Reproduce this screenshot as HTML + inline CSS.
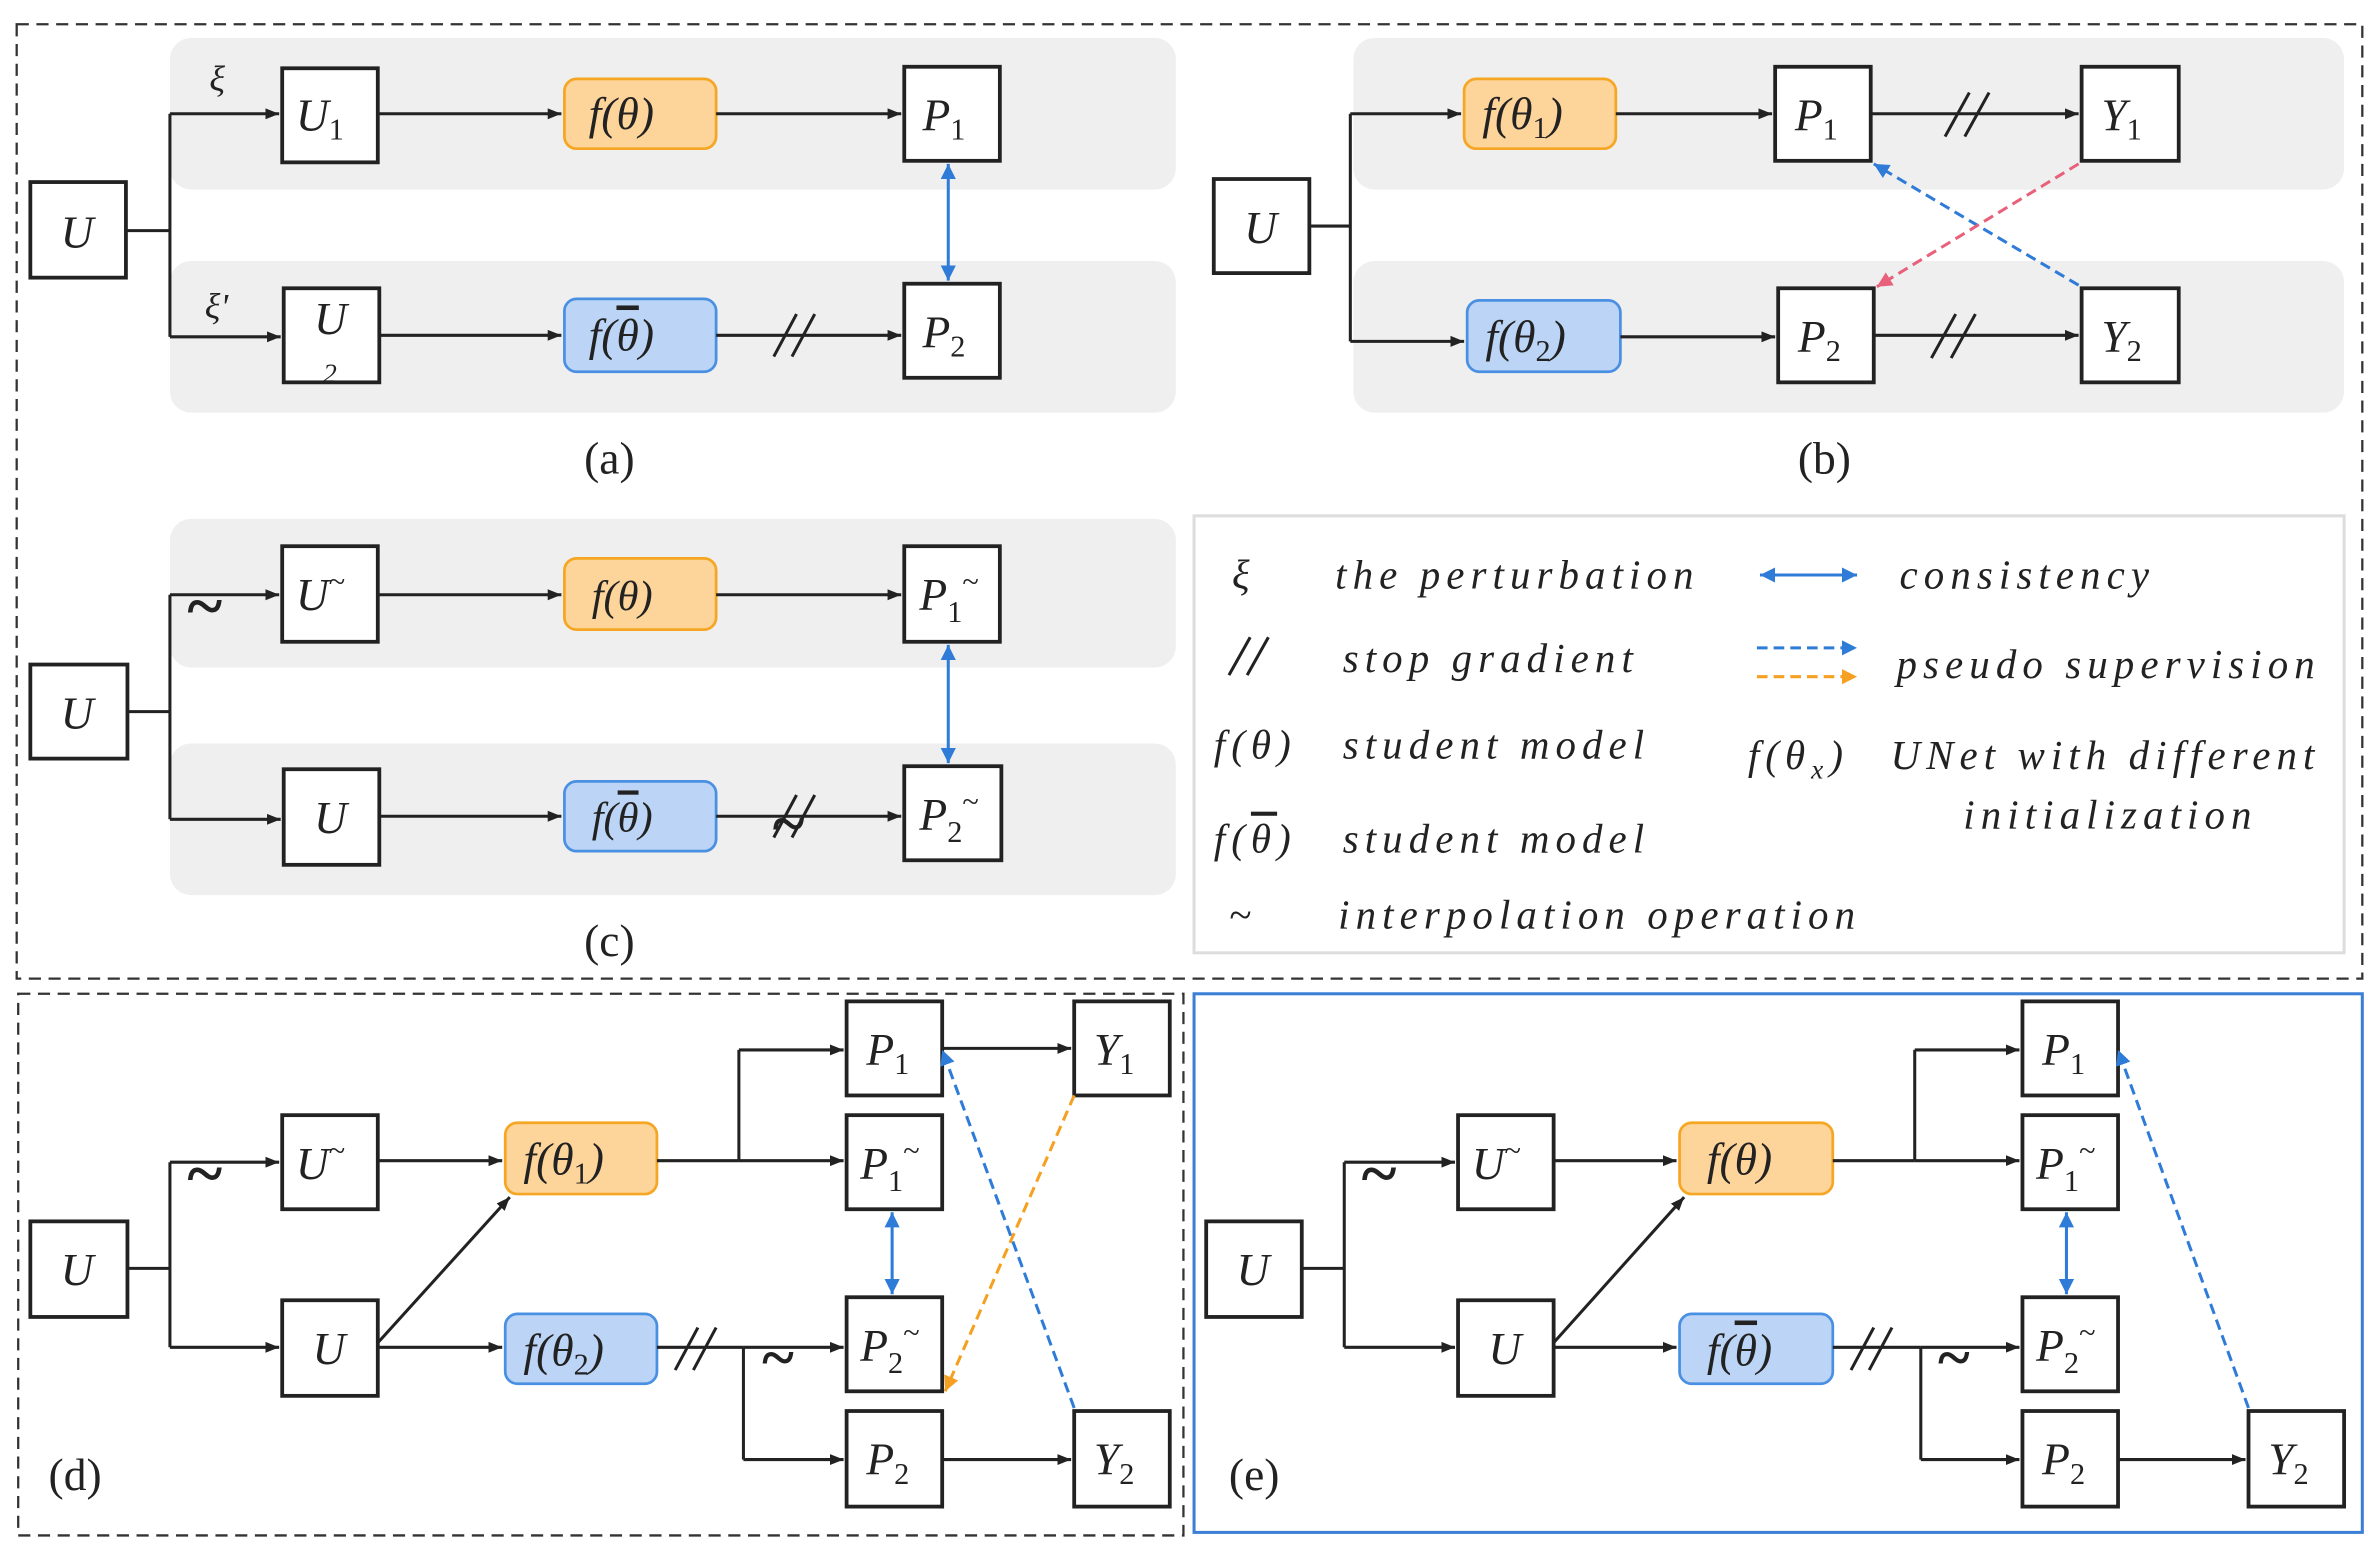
<!DOCTYPE html>
<html><head><meta charset="utf-8"><style>html,body{margin:0;padding:0;background:#fff}svg{display:block}
text{font-family:"Liberation Serif",serif;font-style:italic;fill:#222}
.lab{font-style:normal;font-size:30px}
.lg{font-size:27px;letter-spacing:4px}
.bx{fill:#fff;stroke:#222;stroke-width:2.5}
.or{fill:#fdd49a;stroke:#f5a623;stroke-width:1.8}
.bl{fill:#bcd4f5;stroke:#4a90e2;stroke-width:1.8}
.ln{stroke:#222;stroke-width:2;fill:none}
.gr{fill:#efefef}
.ov{text-decoration:overline}
</style></head><body>
<svg width="2379" height="1550" viewBox="0 0 1568 1021.6" preserveAspectRatio="none">
<defs>
<marker id="a" viewBox="0 0 10 10" refX="10" refY="5" markerWidth="9" markerHeight="9" markerUnits="userSpaceOnUse" orient="auto"><path d="M0,1 L10,5 L0,9z" fill="#222"/></marker>
<marker id="b" viewBox="0 0 10 10" refX="10" refY="5" markerWidth="10" markerHeight="10" markerUnits="userSpaceOnUse" orient="auto-start-reverse"><path d="M0,0 L10,5 L0,10z" fill="#2f7bd8"/></marker>
<marker id="p" viewBox="0 0 10 10" refX="10" refY="5" markerWidth="10" markerHeight="10" markerUnits="userSpaceOnUse" orient="auto"><path d="M0,0 L10,5 L0,10z" fill="#e8607a"/></marker>
<marker id="o" viewBox="0 0 10 10" refX="10" refY="5" markerWidth="10" markerHeight="10" markerUnits="userSpaceOnUse" orient="auto"><path d="M0,0 L10,5 L0,10z" fill="#f5a020"/></marker>
</defs>
<rect x="11" y="16" width="1546" height="629" fill="none" stroke="#333" stroke-width="1.5" stroke-dasharray="8,5"/>
<!-- (a) -->
<rect class="gr" x="112" y="25" width="663" height="100" rx="14"/>
<rect class="gr" x="112" y="172" width="663" height="100" rx="14"/>
<rect class="bx" x="20" y="120" width="63" height="63"/><text x="40" y="163" font-size="30">U</text>
<path class="ln" d="M83,152 H112 M112,75 V222"/>
<path class="ln" d="M112,75 H184" marker-end="url(#a)"/><path class="ln" d="M112,222 H185" marker-end="url(#a)"/>
<text x="138" y="60" font-size="24">ξ</text><text x="135" y="210" font-size="24">ξ'</text>
<rect class="bx" x="186" y="45" width="63" height="62"/><text x="195" y="86" font-size="30">U<tspan font-size="20" dy="6" font-style="normal">1</tspan></text>
<rect class="bx" x="187" y="190" width="63" height="62"/><text x="207" y="220" font-size="30">U</text><text x="213" y="252" font-size="18" font-style="normal">2</text>
<path class="ln" d="M249,75 H370" marker-end="url(#a)"/><path class="ln" d="M250,221 H370" marker-end="url(#a)"/>
<rect class="or" x="372" y="52" width="100" height="46" rx="8"/><text x="388" y="85" font-size="30">f(θ)</text>
<rect class="bl" x="372" y="197" width="100" height="48" rx="8"/><text x="388" y="231" font-size="30">f(<tspan class="ov">θ</tspan>)</text>
<path class="ln" d="M472,75 H594" marker-end="url(#a)"/><path class="ln" d="M472,221 H594" marker-end="url(#a)"/>
<path class="ln" d="M510,235 L525,207 M522,235 L537,207"/>
<rect class="bx" x="596" y="44" width="63" height="62"/><text x="608" y="86" font-size="30">P<tspan font-size="20" dy="6" font-style="normal">1</tspan></text>
<rect class="bx" x="596" y="187" width="63" height="62"/><text x="608" y="229" font-size="30">P<tspan font-size="20" dy="6" font-style="normal">2</tspan></text>
<path d="M625,108 V185" stroke="#2f7bd8" stroke-width="2" marker-start="url(#b)" marker-end="url(#b)"/>
<text class="lab" x="385" y="312">(a)</text>
<!-- (b) -->
<rect class="gr" x="892" y="25" width="653" height="100" rx="14"/>
<rect class="gr" x="892" y="172" width="653" height="100" rx="14"/>
<rect class="bx" x="800" y="118" width="63" height="62"/><text x="820" y="160" font-size="30">U</text>
<path class="ln" d="M863,149 H890 M890,75 V225"/>
<path class="ln" d="M890,75 H963" marker-end="url(#a)"/><path class="ln" d="M890,225 H965" marker-end="url(#a)"/>
<rect class="or" x="965" y="52" width="100" height="46" rx="8"/><text x="977" y="85" font-size="30">f(θ<tspan font-size="20" dy="6" font-style="normal">1</tspan><tspan dy="-6">)</tspan></text>
<rect class="bl" x="967" y="198" width="101" height="47" rx="8"/><text x="979" y="232" font-size="30">f(θ<tspan font-size="20" dy="6" font-style="normal">2</tspan><tspan dy="-6">)</tspan></text>
<path class="ln" d="M1065,75 H1168" marker-end="url(#a)"/><path class="ln" d="M1068,222 H1170" marker-end="url(#a)"/>
<rect class="bx" x="1170" y="44" width="63" height="62"/><text x="1183" y="86" font-size="30">P<tspan font-size="20" dy="6" font-style="normal">1</tspan></text>
<rect class="bx" x="1172" y="190" width="63" height="62"/><text x="1185" y="232" font-size="30">P<tspan font-size="20" dy="6" font-style="normal">2</tspan></text>
<path class="ln" d="M1233,75 H1370" marker-end="url(#a)"/><path class="ln" d="M1235,221 H1370" marker-end="url(#a)"/>
<path class="ln" d="M1282,90 L1298,61 M1295,90 L1311,61 M1273,236 L1289,207 M1286,236 L1302,207"/>
<rect class="bx" x="1372" y="44" width="64" height="62"/><text x="1385" y="86" font-size="30">Y<tspan font-size="20" dy="6" font-style="normal">1</tspan></text>
<rect class="bx" x="1372" y="190" width="64" height="62"/><text x="1385" y="232" font-size="30">Y<tspan font-size="20" dy="6" font-style="normal">2</tspan></text>
<path d="M1370,188 L1235,108" stroke="#2f7bd8" stroke-width="2" stroke-dasharray="7,4" fill="none" marker-end="url(#b)"/>
<path d="M1370,108 L1237,189" stroke="#e8607a" stroke-width="2" stroke-dasharray="7,4" fill="none" marker-end="url(#p)"/>
<text class="lab" x="1185" y="312">(b)</text>
<!-- (c) -->
<rect class="gr" x="112" y="342" width="663" height="98" rx="14"/>
<rect class="gr" x="112" y="490" width="663" height="100" rx="14"/>
<rect class="bx" x="20" y="438" width="64" height="62"/><text x="40" y="480" font-size="30">U</text>
<path class="ln" d="M84,469 H112 M112,392 V540"/>
<path class="ln" d="M112,392 H184" marker-end="url(#a)"/><path class="ln" d="M112,540 H185" marker-end="url(#a)"/>
<text x="122" y="414" font-size="44" font-style="normal" font-weight="bold">~</text>
<rect class="bx" x="186" y="360" width="63" height="63"/><text x="195" y="402" font-size="30">U<tspan font-size="20" dy="-12" font-style="normal">~</tspan></text>
<rect class="bx" x="187" y="507" width="63" height="63"/><text x="207" y="549" font-size="30">U</text>
<path class="ln" d="M249,392 H370" marker-end="url(#a)"/><path class="ln" d="M250,538 H370" marker-end="url(#a)"/>
<rect class="or" x="372" y="368" width="100" height="47" rx="8"/><text x="390" y="402" font-size="28">f(θ)</text>
<rect class="bl" x="372" y="515" width="100" height="46" rx="8"/><text x="390" y="548" font-size="28">f(<tspan class="ov">θ</tspan>)</text>
<path class="ln" d="M472,392 H594" marker-end="url(#a)"/><path class="ln" d="M472,538 H594" marker-end="url(#a)"/>
<path class="ln" d="M510,552 L525,524 M522,552 L537,524"/><text x="508" y="556" font-size="40" font-style="normal" font-weight="bold">~</text>
<rect class="bx" x="596" y="360" width="63" height="63"/><text x="606" y="402" font-size="30">P<tspan font-size="20" dy="8" font-style="normal">1</tspan><tspan font-size="20" dy="-20" font-style="normal">~</tspan></text>
<rect class="bx" x="596" y="505" width="64" height="62"/><text x="606" y="547" font-size="30">P<tspan font-size="20" dy="8" font-style="normal">2</tspan><tspan font-size="20" dy="-20" font-style="normal">~</tspan></text>
<path d="M625,425 V503" stroke="#2f7bd8" stroke-width="2" marker-start="url(#b)" marker-end="url(#b)"/>
<text class="lab" x="385" y="630">(c)</text>
<!-- legend -->
<rect x="787" y="340" width="758" height="288" fill="#fff" stroke="#ddd" stroke-width="2"/>
<text class="lg" x="812" y="388">ξ</text><text class="lg" x="880" y="388">the perturbation</text>
<path class="ln" d="M810,445 L824,420 M822,445 L836,420"/><text class="lg" x="885" y="443">stop gradient</text>
<text class="lg" x="800" y="500">f(θ)</text><text class="lg" x="885" y="500">student model</text>
<text class="lg" x="800" y="562">f(<tspan class="ov">θ</tspan>)</text><text class="lg" x="885" y="562">student model</text>
<text class="lg" x="810" y="612" font-style="normal">~</text><text class="lg" x="882" y="612">interpolation operation</text>
<path d="M1160,379 H1224" stroke="#2f7bd8" stroke-width="2" marker-start="url(#b)" marker-end="url(#b)"/><text class="lg" x="1252" y="388">consistency</text>
<path d="M1158,427 H1224" stroke="#2f7bd8" stroke-width="2" stroke-dasharray="7,4" marker-end="url(#b)"/>
<path d="M1158,446 H1224" stroke="#f5a020" stroke-width="2" stroke-dasharray="7,4" marker-end="url(#o)"/>
<text class="lg" x="1250" y="447">pseudo supervision</text>
<text class="lg" x="1152" y="507">f(θ<tspan font-size="18" dy="6">x</tspan><tspan dy="-6">)</tspan></text>
<text class="lg" x="1246" y="507">UNet with different</text><text class="lg" x="1294" y="546">initialization</text>
<!-- (d) -->
<rect x="12" y="655" width="768" height="357" fill="none" stroke="#333" stroke-width="1.5" stroke-dasharray="8,5"/>
<rect class="bx" x="20" y="805" width="64" height="63"/><text x="40" y="847" font-size="30">U</text>
<path class="ln" d="M84,836 H112 M112,766 V888"/>
<path class="ln" d="M112,766 H184" marker-end="url(#a)"/><path class="ln" d="M112,888 H184" marker-end="url(#a)"/>
<text x="122" y="788" font-size="44" font-style="normal" font-weight="bold">~</text>
<rect class="bx" x="186" y="735" width="63" height="62"/><text x="195" y="777" font-size="30">U<tspan font-size="20" dy="-12" font-style="normal">~</tspan></text>
<rect class="bx" x="186" y="857" width="63" height="63"/><text x="206" y="899" font-size="30">U</text>
<path class="ln" d="M249,765 H331" marker-end="url(#a)"/><path class="ln" d="M249,888 H331" marker-end="url(#a)"/>
<path class="ln" d="M249,885 L336,789" marker-end="url(#a)"/>
<rect class="or" x="333" y="740" width="100" height="47" rx="8"/><text x="345" y="774" font-size="30">f(θ<tspan font-size="20" dy="6" font-style="normal">1</tspan><tspan dy="-6">)</tspan></text>
<rect class="bl" x="333" y="866" width="100" height="46" rx="8"/><text x="345" y="900" font-size="30">f(θ<tspan font-size="20" dy="6" font-style="normal">2</tspan><tspan dy="-6">)</tspan></text>
<path class="ln" d="M433,765 H487 M487,765 V692"/><path class="ln" d="M487,692 H556" marker-end="url(#a)"/><path class="ln" d="M487,765 H556" marker-end="url(#a)"/>
<path class="ln" d="M433,888 H490 M490,888 V962"/><path class="ln" d="M490,888 H556" marker-end="url(#a)"/><path class="ln" d="M490,962 H556" marker-end="url(#a)"/>
<path class="ln" d="M445,903 L460,875 M457,903 L472,875"/><text x="501" y="908" font-size="40" font-style="normal" font-weight="bold">~</text>
<rect class="bx" x="558" y="660" width="63" height="62"/><text x="571" y="702" font-size="30">P<tspan font-size="20" dy="6" font-style="normal">1</tspan></text>
<rect class="bx" x="558" y="735" width="63" height="62"/><text x="567" y="777" font-size="30">P<tspan font-size="20" dy="8" font-style="normal">1</tspan><tspan font-size="20" dy="-20" font-style="normal">~</tspan></text>
<rect class="bx" x="558" y="855" width="63" height="62"/><text x="567" y="897" font-size="30">P<tspan font-size="20" dy="8" font-style="normal">2</tspan><tspan font-size="20" dy="-20" font-style="normal">~</tspan></text>
<rect class="bx" x="558" y="930" width="63" height="63"/><text x="571" y="972" font-size="30">P<tspan font-size="20" dy="6" font-style="normal">2</tspan></text>
<path class="ln" d="M621,691 H706" marker-end="url(#a)"/><path class="ln" d="M621,962 H706" marker-end="url(#a)"/>
<rect class="bx" x="708" y="660" width="63" height="62"/><text x="721" y="702" font-size="30">Y<tspan font-size="20" dy="6" font-style="normal">1</tspan></text>
<rect class="bx" x="708" y="930" width="63" height="63"/><text x="721" y="972" font-size="30">Y<tspan font-size="20" dy="6" font-style="normal">2</tspan></text>
<path d="M588,799 V853" stroke="#2f7bd8" stroke-width="2" marker-start="url(#b)" marker-end="url(#b)"/>
<path d="M708,928 L621,692" stroke="#2f7bd8" stroke-width="2" stroke-dasharray="7,4" fill="none" marker-end="url(#b)"/>
<path d="M708,722 L623,917" stroke="#f5a020" stroke-width="2" stroke-dasharray="7,4" fill="none" marker-end="url(#o)"/>
<text class="lab" x="32" y="982">(d)</text>
<!-- (e) -->
<rect x="787" y="655" width="770" height="355" fill="none" stroke="#3b7fd6" stroke-width="2"/>
<rect class="bx" x="795" y="805" width="63" height="63"/><text x="815" y="847" font-size="30">U</text>
<path class="ln" d="M858,836 H886 M886,766 V888"/>
<path class="ln" d="M886,766 H959" marker-end="url(#a)"/><path class="ln" d="M886,888 H959" marker-end="url(#a)"/>
<text x="896" y="788" font-size="44" font-style="normal" font-weight="bold">~</text>
<rect class="bx" x="961" y="735" width="63" height="62"/><text x="970" y="777" font-size="30">U<tspan font-size="20" dy="-12" font-style="normal">~</tspan></text>
<rect class="bx" x="961" y="857" width="63" height="63"/><text x="981" y="899" font-size="30">U</text>
<path class="ln" d="M1024,765 H1105" marker-end="url(#a)"/><path class="ln" d="M1024,888 H1105" marker-end="url(#a)"/>
<path class="ln" d="M1024,885 L1110,789" marker-end="url(#a)"/>
<rect class="or" x="1107" y="740" width="101" height="47" rx="8"/><text x="1125" y="774" font-size="30">f(θ)</text>
<rect class="bl" x="1107" y="866" width="101" height="46" rx="8"/><text x="1125" y="900" font-size="30">f(<tspan class="ov">θ</tspan>)</text>
<path class="ln" d="M1208,765 H1262 M1262,765 V692"/><path class="ln" d="M1262,692 H1331" marker-end="url(#a)"/><path class="ln" d="M1262,765 H1331" marker-end="url(#a)"/>
<path class="ln" d="M1208,888 H1266 M1266,888 V962"/><path class="ln" d="M1266,888 H1331" marker-end="url(#a)"/><path class="ln" d="M1266,962 H1331" marker-end="url(#a)"/>
<path class="ln" d="M1220,903 L1235,875 M1232,903 L1247,875"/><text x="1276" y="908" font-size="40" font-style="normal" font-weight="bold">~</text>
<rect class="bx" x="1333" y="660" width="63" height="62"/><text x="1346" y="702" font-size="30">P<tspan font-size="20" dy="6" font-style="normal">1</tspan></text>
<rect class="bx" x="1333" y="735" width="63" height="62"/><text x="1342" y="777" font-size="30">P<tspan font-size="20" dy="8" font-style="normal">1</tspan><tspan font-size="20" dy="-20" font-style="normal">~</tspan></text>
<rect class="bx" x="1333" y="855" width="63" height="62"/><text x="1342" y="897" font-size="30">P<tspan font-size="20" dy="8" font-style="normal">2</tspan><tspan font-size="20" dy="-20" font-style="normal">~</tspan></text>
<rect class="bx" x="1333" y="930" width="63" height="63"/><text x="1346" y="972" font-size="30">P<tspan font-size="20" dy="6" font-style="normal">2</tspan></text>
<path class="ln" d="M1396,962 H1480" marker-end="url(#a)"/>
<rect class="bx" x="1482" y="930" width="63" height="63"/><text x="1495" y="972" font-size="30">Y<tspan font-size="20" dy="6" font-style="normal">2</tspan></text>
<path d="M1362,799 V853" stroke="#2f7bd8" stroke-width="2" marker-start="url(#b)" marker-end="url(#b)"/>
<path d="M1482,928 L1396,692" stroke="#2f7bd8" stroke-width="2" stroke-dasharray="7,4" fill="none" marker-end="url(#b)"/>
<text class="lab" x="810" y="982">(e)</text>
</svg>
</body></html>
